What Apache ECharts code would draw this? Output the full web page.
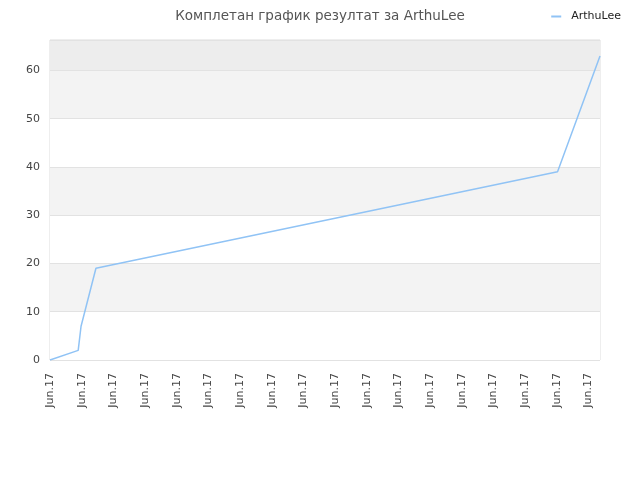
<!DOCTYPE html>
<html>
<head>
<meta charset="utf-8">
<script src="https://cdn.jsdelivr.net/npm/echarts@6/dist/echarts.min.js"></script>
<style>
  html, body { margin: 0; padding: 0; background: #fff; }
  #main { width: 640px; height: 480px; }
</style>
</head>
<body>
<div id="main"></div>
<script>
// 数据
const seriesName = 'ArthuLee'
const tickLabel = 'Jun.17'
// x 以刻度间隔为单位
const xValues = [0, 0.89, 0.98, 1.45, 16.02, 17.36]
const scores = [0, 2, 7, 19, 39, 63]

const myChart = echarts.init(document.querySelector('#main'))
const option = {
  animation: false,
  textStyle: {
    fontFamily: 'DejaVu Sans'
  },
  // 标题
  title: {
    text: 'Комплетан график резултат за ArthuLee',
    left: 'center',
    top: 4,
    textStyle: {
      fontSize: 13.5,
      fontWeight: 'normal',
      color: '#555'
    }
  },
  // 图例
  legend: {
    right: 14,
    top: 6,
    itemWidth: 10,
    itemHeight: 2,
    icon: 'rect',
    textStyle: {
      fontSize: 11,
      color: '#222',
      padding: [0, 0, 0, 5]
    },
    data: [seriesName]
  },
  grid: {
    left: 50,
    right: 40,
    top: 40,
    bottom: 120,
    show: true,
    borderColor: '#ddd',
    borderWidth: 1
  },
  xAxis: {
    type: 'value',
    min: 0,
    max: 17.36,
    interval: 1,
    axisLine: { show: false },
    axisTick: { show: false },
    splitLine: { show: false },
    axisLabel: {
      rotate: 90,
      fontSize: 11,
      color: '#444',
      margin: 13,
      showMaxLabel: false,
      formatter: () => tickLabel
    }
  },
  yAxis: {
    type: 'value',
    min: 0,
    max: 66.3,
    interval: 10,
    axisLine: { show: false },
    axisTick: { show: false },
    axisLabel: {
      fontSize: 11,
      color: '#444',
      margin: 10,
      showMaxLabel: false
    },
    splitLine: {
      lineStyle: { color: '#e2e2e2' }
    },
    // 交替背景
    splitArea: {
      show: true,
      areaStyle: {
        color: ['#ffffff', '#f3f3f3', '#ffffff', '#f3f3f3', '#ffffff', '#f3f3f3', '#ededed']
      }
    }
  },
  series: [
    {
      name: seriesName,
      type: 'line',
      data: xValues.map((x, i) => [x, scores[i]]),
      showSymbol: false,
      lineStyle: {
        width: 1.5,
        color: '#90c3f5'
      },
      itemStyle: {
        color: '#90c3f5'
      }
    }
  ]
}
myChart.setOption(option)
</script>
</body>
</html>
